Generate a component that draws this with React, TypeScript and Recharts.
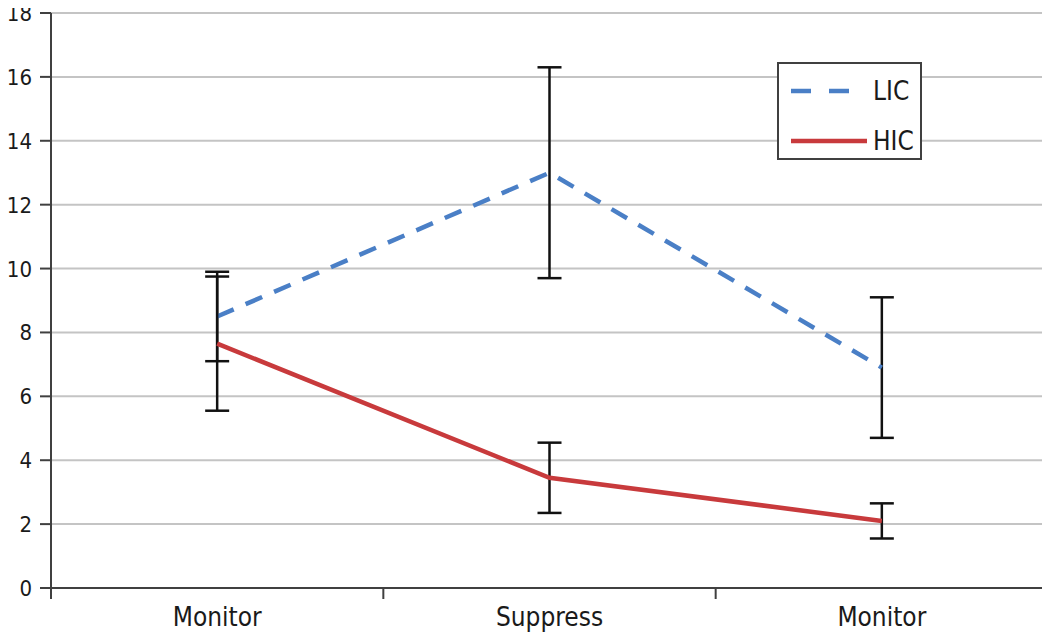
import { LineChart, Line, XAxis, YAxis, CartesianGrid, ErrorBar } from "recharts"

const categories = ["Monitor", "Suppress", "Monitor"]
const licValues = [8.5, 13.0, 6.9]
const licErrors = [1.4, 3.3, 2.2]
const hicValues = [7.65, 3.45, 2.1]
const hicErrors = [2.1, 1.1, 0.55]
const yTicks = [0, 2, 4, 6, 8, 10, 12, 14, 16, 18]

const series = [
  { name: "LIC", color: "#4a7fc6", dash: "18 13" },
  { name: "HIC", color: "#c83a3c", dash: undefined },
]

const labelFont = "'DejaVu Sans Condensed', 'DejaVu Sans', sans-serif"

// category i sits in the middle of its band, boundaries get tick marks
const chartData = categories.map((name, i) => ({
  pos: i + 0.5,
  name,
  lic: licValues[i],
  licErr: licErrors[i],
  hic: hicValues[i],
  hicErr: hicErrors[i],
}))

const xTicks = [0, ...categories.flatMap((_, i) => [i + 0.5, i + 1])]

function XTick(props: any) {
  const { x, y, payload } = props
  const v = payload.value as number
  if (Number.isInteger(v)) {
    return <line x1={x} x2={x} y1={y} y2={y + 11} stroke="#404040" strokeWidth={2} />
  }
  return (
    <text x={x} y={y + 38} textAnchor="middle" fill="#1a1a1a" fontSize={26} fontFamily={labelFont}>
      {categories[Math.floor(v)]}
    </text>
  )
}

function YTick(props: any) {
  const { x, y, payload } = props
  return (
    <text x={x} y={y + 8} textAnchor="end" fill="#1a1a1a" fontSize={22} fontFamily={labelFont}>
      {payload.value}
    </text>
  )
}

function LegendBox() {
  return (
    <div
      style={{
        position: "absolute",
        left: 777,
        top: 62,
        width: 141,
        height: 94,
        border: "2px solid #404040",
        background: "#fff",
      }}
    >
      {series.map((s, i) => (
        <div
          key={s.name}
          style={{ position: "absolute", left: 10, top: 12 + i * 50, height: 30, display: "flex", alignItems: "center" }}
        >
          <svg width={80} height={10}>
            <line x1={2} x2={78} y1={5} y2={5} stroke={s.color} strokeWidth={4.5} strokeDasharray={s.dash ? "20 18" : undefined} />
          </svg>
          <span style={{ marginLeft: 4, fontSize: 26, fontFamily: labelFont, color: "#1a1a1a" }}>{s.name}</span>
        </div>
      ))}
    </div>
  )
}

export default function App() {
  return (
    <div style={{ position: "relative", width: 1050, height: 633, margin: "-8px 0 0 -8px" }}>
      <LineChart width={1050} height={633} data={chartData} margin={{ top: 13, right: 2, left: 0, bottom: 0 }}>
        <CartesianGrid vertical={false} stroke="#c4c4c4" strokeWidth={2} />
        <XAxis
          dataKey="pos"
          type="number"
          domain={[0, 3]}
          ticks={xTicks}
          interval={0}
          tick={<XTick />}
          tickLine={false}
          tickSize={0}
          tickMargin={0}
          height={45}
          axisLine={{ stroke: "#404040", strokeWidth: 2 }}
        />
        <YAxis
          domain={[0, 18]}
          ticks={yTicks}
          interval={0}
          width={51}
          tickSize={11}
          tickMargin={8}
          tickLine={{ stroke: "#404040", strokeWidth: 2 }}
          axisLine={{ stroke: "#404040", strokeWidth: 2 }}
          tick={<YTick />}
        />
        <Line
          dataKey="lic"
          stroke={series[0].color}
          strokeWidth={4.5}
          strokeDasharray={series[0].dash}
          dot={false}
          isAnimationActive={false}
        >
          <ErrorBar dataKey="licErr" direction="y" width={12} stroke="#111" strokeWidth={2.5} />
        </Line>
        <Line
          dataKey="hic"
          stroke={series[1].color}
          strokeWidth={4.5}
          dot={false}
          isAnimationActive={false}
        >
          <ErrorBar dataKey="hicErr" direction="y" width={12} stroke="#111" strokeWidth={2.5} />
        </Line>
      </LineChart>
      <LegendBox />
    </div>
  )
}
